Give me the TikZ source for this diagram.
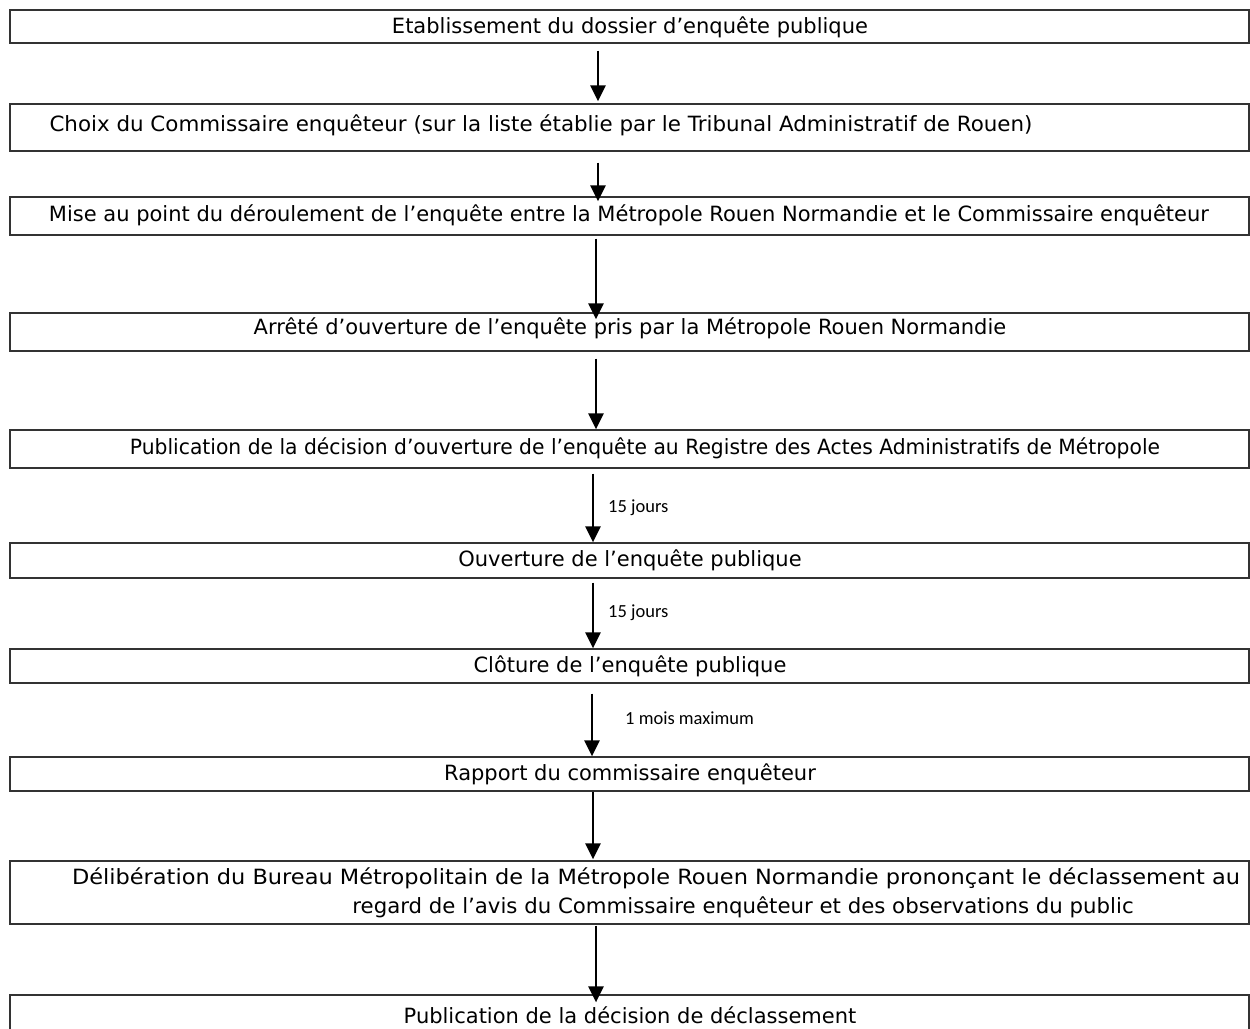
\documentclass[tikz,border=0pt]{standalone}
\usepackage{fontspec}
\setmainfont{DejaVu Sans}
\newfontfamily\labfont{Carlito}
\usetikzlibrary{arrows.meta,calc}
\begin{document}
\begin{tikzpicture}[x=1pt,y=-1pt,
  box/.style={draw=black!80, line width=1.3pt, rectangle, inner sep=0pt, minimum width=1239pt},
  txt/.style={inner sep=0pt, font=\fontsize{21}{25}\selectfont, anchor=center},
  lab/.style={inner sep=0pt, font=\labfont\fontsize{18.5}{22}\selectfont, anchor=west},
  arr/.style={line width=2.4pt, -{Triangle[length=16pt,width=15pt]}}]
\clip (0,0) rectangle (1250,1028);
\fill[white] (0,0) rectangle (1250,1028);
% boxes
\node[box, minimum height=33pt] (b1) at (629.5,26.5) {};
\node[box, minimum height=47pt] (b2) at (629.5,127.5) {};
\node[box, minimum height=38pt] (b3) at (629.5,216) {};
\node[box, minimum height=38pt] (b4) at (629.5,332) {};
\node[box, minimum height=38pt] (b5) at (629.5,449) {};
\node[box, minimum height=35pt] (b6) at (629.5,560.5) {};
\node[box, minimum height=34pt] (b7) at (629.5,666) {};
\node[box, minimum height=34pt] (b8) at (629.5,774) {};
\node[box, minimum height=63pt] (b9) at (629.5,892.5) {};
\node[box, minimum height=45pt] (b10) at (629.5,1017.5) {};
% texts
\node[txt] (t1) at (630,27) {Etablissement du dossier d’enquête publique};
\node[txt] (t2) at (541,125) {\scalebox{1.019}[1]{Choix du Commissaire enquêteur (sur la liste établie par le Tribunal Administratif de Rouen)}};
\node[txt] (t3) at (629,215) {Mise au point du déroulement de l’enquête entre la Métropole Rouen Normandie et le Commissaire enquêteur};
\node[txt] (t4) at (630,328) {Arrêté d’ouverture de l’enquête pris par la Métropole Rouen Normandie};
\node[txt] (t5) at (645,448) {\scalebox{0.966}[1]{Publication de la décision d’ouverture de l’enquête au Registre des Actes Administratifs de Métropole}};
\node[txt] (t6) at (630,560) {Ouverture de l’enquête publique};
\node[txt] (t7) at (630,666) {Clôture de l’enquête publique};
\node[txt] (t8) at (630,774) {Rapport du commissaire enquêteur};
\node[txt] (t9a) at (656,878) {\scalebox{1.07}[1]{Délibération du Bureau Métropolitain de la Métropole Rouen Normandie prononçant le déclassement au}};
\node[txt] (t9b) at (743,907) {\scalebox{1.013}[1]{regard de l’avis du Commissaire enquêteur et des observations du public}};
\node[txt] (t10) at (630,1015) {Publication de la décision de déclassement};
% arrows
\draw[arr] ($(b1.south)+(-31.5,7)$) -- ($(b2.north)+(-31.5,-2)$);
\draw[arr] ($(b2.south)+(-31.5,11)$) -- ($(b3.north)+(-31.5,5)$);
\draw[arr] ($(b3.south)+(-33.5,3)$) -- ($(b4.north)+(-33.5,7)$);
\draw[arr] ($(b4.south)+(-33.5,7)$) -- ($(b5.north)+(-33.5,0)$);
\draw[arr] ($(b5.south)+(-36.5,5)$) -- node[lab, pos=0.49, xshift=14pt] (l1) {15 jours} ($(b6.north)+(-36.5,0)$);
\draw[arr] ($(b6.south)+(-36.5,4)$) -- node[lab, pos=0.46, xshift=14pt] (l2) {15 jours} ($(b7.north)+(-36.5,0)$);
\draw[arr] ($(b7.south)+(-37.5,10)$) -- node[lab, pos=0.39, xshift=32pt] (l3) {1 mois maximum} ($(b8.north)+(-37.5,0)$);
\draw[arr] ($(b8.south)+(-36.5,0)$) -- ($(b9.north)+(-36.5,-1)$);
\draw[arr] ($(b9.south)+(-33.5,1)$) -- ($(b10.north)+(-33.5,8)$);
\end{tikzpicture}
\end{document}
